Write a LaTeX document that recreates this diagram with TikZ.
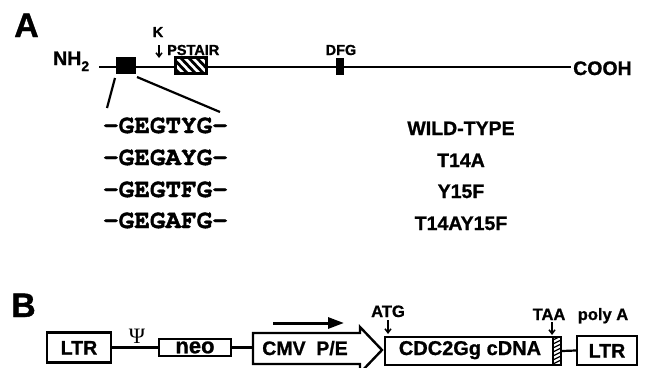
\documentclass[tikz,border=0pt]{standalone}
\usepackage{fontspec}
\setmainfont{Liberation Sans}[BoldFeatures={FakeBold=1.0}]
\newfontfamily\seqfont{TeX Gyre Cursor}[BoldFeatures={FakeBold=1.5}]
\newfontfamily\greekfont{Liberation Serif}
\usetikzlibrary{arrows.meta}
\tikzset{
  lbl/.style={inner sep=0pt, font=\fontsize{19.5}{22}\selectfont\bfseries},
  smalllbl/.style={inner sep=0pt, font=\fontsize{14.5}{16}\selectfont\bfseries},
  midlbl/.style={inner sep=0pt, font=\fontsize{16.5}{18}\selectfont\bfseries},
  panel/.style={inner sep=0pt, font=\fontsize{34}{36}\selectfont\bfseries},
  seqtext/.style={inner sep=0pt, font=\seqfont\fontsize{26}{28}\selectfont\bfseries},
  boxnode/.style={draw, line width=2.4pt, inner sep=0pt, text height=14pt, text depth=0pt},
  blk/.style={fill=black, inner sep=0pt},
  thick line/.style={line width=2.8pt},
  thin line/.style={line width=2.2pt},
  downarr/.style={line width=1.5pt, -{Straight Barb[length=4pt,width=6pt]}},
}
\begin{document}
\begin{tikzpicture}[x=1pt,y=-1pt]
\useasboundingbox (0,0) rectangle (648,367);

% ---------- Panel A ----------
\node[panel, anchor=base west] (labA) at (14,37) {A};

\coordinate (nstart) at (99,67);
\coordinate (cend) at (571,67);
\draw[thick line] (nstart) -- (cend);

\node[lbl, anchor=base west] (nh) at (53,65) {NH\raisebox{-6pt}{\fontsize{14}{14}\selectfont 2}};
\node[lbl, anchor=base west] (cooh) at (573,75) {COOH};

\node[blk, minimum width=20pt, minimum height=17pt] (gbox) at (126,65.5) {};

\node[draw, line width=2.2pt, fill=white, inner sep=0pt, minimum width=30pt, minimum height=15pt] (pst) at (191,65.5) {};
\begin{scope}
  \clip (pst.south west) rectangle (pst.north east);
  \foreach \x in {163,171,179,187,195,203} {
    \draw[line width=2.8pt] (\x,56) -- (\x+18,75);
  }
\end{scope}
\draw[line width=2.2pt] (pst.south west) rectangle (pst.north east);

\node[blk, minimum width=8pt, minimum height=17pt] (dfgbox) at (340,66.5) {};

\node[smalllbl, anchor=base] (klbl) at (158,37) {K};
\coordinate (ktop) at (159,45);
\coordinate (kbot) at (159,58);
\draw[downarr] (ktop) -- (kbot);
\node[smalllbl, anchor=base west] (pstlbl) at (167,55) {PSTAIR};
\node[smalllbl, anchor=base] (dfglbl) at (341,55) {DFG};

\coordinate (lA) at (115,78);
\coordinate (lB) at (107,108);
\coordinate (rA) at (137,77);
\coordinate (rB) at (220,112);
\draw[thin line] (lA) -- (lB);
\draw[thin line] (rA) -- (rB);

\node[seqtext, anchor=base] (s1) at (165.5,133) {-GEGTYG-};
\node[seqtext, anchor=base] (s2) at (165.5,165) {-GEGAYG-};
\node[seqtext, anchor=base] (s3) at (165.5,197) {-GEGTFG-};
\node[seqtext, anchor=base] (s4) at (165.5,228) {-GEGAFG-};

\node[lbl, anchor=base] (m1) at (461,135) {WILD-TYPE};
\node[lbl, anchor=base] (m2) at (461,167) {T14A};
\node[lbl, anchor=base] (m3) at (461,198) {Y15F};
\node[lbl, anchor=base] (m4) at (461,230) {T14AY15F};

% ---------- Panel B ----------
\node[panel, anchor=base west] (labB) at (11,317) {B};

\node[boxnode, lbl, minimum width=64pt, minimum height=30pt] (ltrL) at (79,347.5) {LTR};
\node[boxnode, inner sep=0pt, font=\fontsize{22}{24}\selectfont\bfseries, text height=11.5pt, minimum width=72pt, minimum height=17pt] (neo) at (195,347.5) {neo};
\node[inner sep=0pt, anchor=base] (psi) at (137,343) {\greekfont\fontsize{22}{24}\selectfont Ψ};

\coordinate (cmvL) at (253,347.5);
\draw[thin line] (ltrL) -- (neo);
\draw[thin line] (neo.east) -- (cmvL);

\draw[line width=2.4pt, line join=miter] (253,333) -- (360,333) -- (360,327) -- (382,350) -- (360,373) -- (360,364) -- (253,364) -- cycle;
\node[lbl, anchor=base] (cmvlbl) at (305,355) {CMV\hspace{0.55em}P/E};

\coordinate (arrS) at (273,323);
\coordinate (arrE) at (344,323);
\draw[line width=3pt, -{Triangle[length=16pt,width=11pt]}] (arrS) -- (arrE);

\node[boxnode, minimum width=176pt, minimum height=28pt] (cdna) at (473,351) {};
\node[inner sep=0pt, anchor=base, font=\fontsize{20}{22}\selectfont\bfseries] (cdnalbl) at (470,355) {CDC2Gg cDNA};
\begin{scope}
  \clip (553,337) rectangle (561,365);
  \foreach \y in {336,340,...,368} {
    \draw[line width=1.3pt] (553,\y+4) -- (561,\y);
  }
\end{scope}
\draw[line width=1.2pt] (553,337) -- (553,365);

\node[boxnode, lbl, minimum width=60pt, minimum height=29pt] (ltrR) at (607,350.5) {LTR};
\draw[thin line] (cdna.east) -- (ltrR.west);

\node[midlbl, anchor=base] (atg) at (388,317) {ATG};
\coordinate (atgtop) at (388,320);
\coordinate (atgbot) at (388,334);
\draw[downarr] (atgtop) -- (atgbot);

\node[midlbl, anchor=base] (taa) at (549,320) {TAA};
\coordinate (taatop) at (552,322);
\coordinate (taabot) at (552,335);
\draw[downarr] (taatop) -- (taabot);

\node[midlbl, anchor=base] (polya) at (603,320) {poly A};
\end{tikzpicture}
\end{document}
